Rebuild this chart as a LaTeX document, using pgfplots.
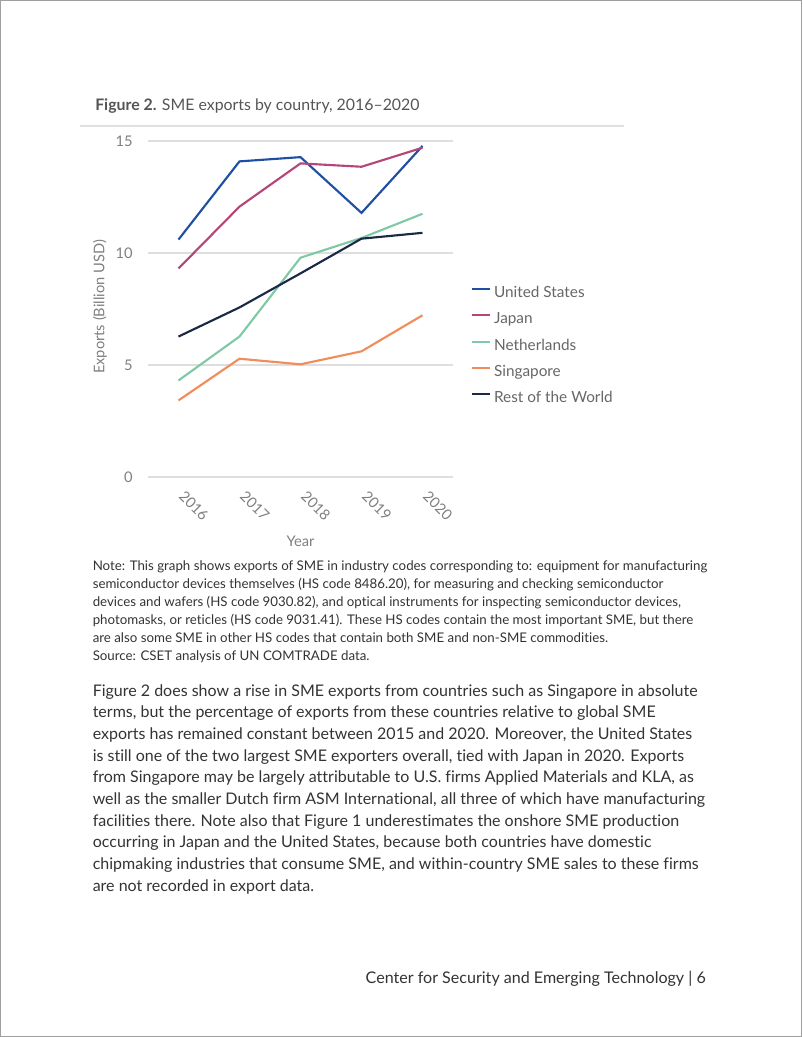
\documentclass[border=0pt]{standalone}
\usepackage{fontspec}
\setmainfont{Lato}[Ligatures=NoCommon]
\usepackage{pgfplots}
\pgfplotsset{compat=1.18}
\definecolor{cUS}{HTML}{1F4FA3}
\definecolor{cJP}{HTML}{B5467A}
\definecolor{cNL}{HTML}{7FC9A7}
\definecolor{cSG}{HTML}{F28C5B}
\definecolor{cRW}{HTML}{1B2946}
\definecolor{ticgray}{HTML}{7F7F7F}
\definecolor{leggray}{HTML}{666666}
\definecolor{titlegray}{HTML}{555555}
\definecolor{bodygray}{HTML}{333333}
\begin{document}
\begin{tikzpicture}
\useasboundingbox (0,0) rectangle (601.5pt,-777.75pt);
\begin{scope}[x=0.75pt,y=-0.75pt]
\draw[gray!75, line width=0.8pt] (0.6,0.6) rectangle (801.4,1036.4);
\node[anchor=base west, inner sep=0pt, text=titlegray, font=\fontsize{11.9}{14}\selectfont] at (95,111) {\textbf{Figure 2.} SME exports by country, 2016–2020};
\draw[black!12, line width=1.5pt] (80,126) -- (624,126);
% note
\begin{scope}[every node/.style={anchor=base west, inner sep=0pt, text=bodygray, font=\fontsize{9.97}{12}\selectfont}]
\node at (92.5,570) {Note: This graph shows exports of SME in industry codes corresponding to: equipment for manufacturing};
\node at (92.5,588) {semiconductor devices themselves (HS code 8486.20), for measuring and checking semiconductor};
\node at (92.5,606) {devices and wafers (HS code 9030.82), and optical instruments for inspecting semiconductor devices,};
\node at (92.5,624) {photomasks, or reticles (HS code 9031.41). These HS codes contain the most important SME, but there};
\node at (92.5,642) {are also some SME in other HS codes that contain both SME and non-SME commodities.};
\node at (92.5,660) {Source: CSET analysis of UN COMTRADE data.};
\end{scope}
% body
\begin{scope}[every node/.style={anchor=base west, inner sep=0pt, text=bodygray, font=\fontsize{12}{14}\selectfont}]
\node at (92.5,696) {Figure 2 does show a rise in SME exports from countries such as Singapore in absolute};
\node at (92.5,717.7) {terms, but the percentage of exports from these countries relative to global SME};
\node at (92.5,739.3) {exports has remained constant between 2015 and 2020. Moreover, the United States};
\node at (92.5,761) {is still one of the two largest SME exporters overall, tied with Japan in 2020. Exports};
\node at (92.5,782.7) {from Singapore may be largely attributable to U.S. firms Applied Materials and KLA, as};
\node at (92.5,804.3) {well as the smaller Dutch firm ASM International, all three of which have manufacturing};
\node at (92.5,826) {facilities there. Note also that Figure 1 underestimates the onshore SME production};
\node at (92.5,847.7) {occurring in Japan and the United States, because both countries have domestic};
\node at (92.5,869.3) {chipmaking industries that consume SME, and within-country SME sales to these firms};
\node at (92.5,891) {are not recorded in export data.};
\end{scope}
\node[anchor=base east, inner sep=0pt, text=bodygray, font=\fontsize{12.05}{14}\selectfont] at (706,983) {Center for Security and Emerging Technology | 6};
\end{scope}
\begin{axis}[
  at={(111pt,-357.75pt)}, anchor=south west,
  scale only axis, width=228.75pt, height=252pt,
  xmin=2015.5, xmax=2020.5, ymin=0, ymax=15,
  xtick={2016,2017,2018,2019,2020},
  xticklabels={2016,2017,2018,2019,2020},
  ytick={0,5,10,15},
  ymajorgrids, grid style={black!13, line width=0.9pt},
  axis line style={draw=none}, tick style={draw=none},
  clip=false,
  /pgf/number format/assume math mode=true,
  tick label style={text=ticgray, font=\fontsize{11}{13}\selectfont},
  yticklabel style={xshift=-8pt},
  xticklabel shift=10pt,
  xticklabel style={rotate=-45, anchor=west},
  xlabel={Year}, ylabel={Exports (Billion USD)},
  label style={text=ticgray, font=\fontsize{11}{13}\selectfont},
  xlabel style={at={(axis description cs:0.5,0)}, anchor=center, yshift=-48.5pt},
  ylabel style={at={(axis description cs:0,0.506)}, anchor=center, yshift=36pt},
  legend cell align=left,
  legend style={draw=none, fill=none, at={(1.059,0.585)}, anchor=north west,
    inner sep=0pt, row sep=0pt, text=leggray, font=\fontsize{11.5}{13}\selectfont,
    nodes={inner xsep=2pt, inner ysep=5.1pt, text height=7.5pt, text depth=2pt}},
  legend image code/.code={\draw[#1] (0pt,3.6pt) -- (13.5pt,3.6pt);},
  every axis plot/.append style={line width=1.6pt},
]
\addplot[cUS] coordinates {(2016,10.60) (2017,14.09) (2018,14.28) (2019,11.79) (2020,14.78)};
\addlegendentry{United States}
\addplot[cJP] coordinates {(2016,9.31) (2017,12.07) (2018,14.00) (2019,13.85) (2020,14.70)};
\addlegendentry{Japan}
\addplot[cNL] coordinates {(2016,4.31) (2017,6.27) (2018,9.79) (2019,10.67) (2020,11.75)};
\addlegendentry{Netherlands}
\addplot[cSG] coordinates {(2016,3.42) (2017,5.28) (2018,5.03) (2019,5.61) (2020,7.22)};
\addlegendentry{Singapore}
\addplot[cRW] coordinates {(2016,6.27) (2017,7.57) (2018,9.09) (2019,10.64) (2020,10.90)};
\addlegendentry{Rest of the World}
\end{axis}
\end{tikzpicture}
\end{document}
